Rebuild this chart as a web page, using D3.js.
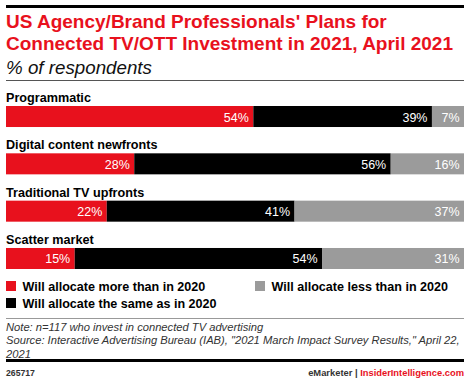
<!DOCTYPE html>
<html><head><meta charset="utf-8">
<script src="https://cdn.jsdelivr.net/npm/d3@7/dist/d3.min.js"></script>
<style>body{margin:0;background:#fff}svg{display:block}text{font-family:"Liberation Sans",Arial,sans-serif}</style>
</head><body><svg id="c" width="470" height="383"></svg>
<script>
const categories = ["Programmatic","Digital content newfronts","Traditional TV upfronts","Scatter market"];
const moreThan2020 = [54,28,22,15];
const sameAs2020 = [39,56,41,54];
const lessThan2020 = [7,16,37,31];
const seriesNames = ["Will allocate more than in 2020","Will allocate the same as in 2020","Will allocate less than in 2020"];
const seriesKeys = ["more","same","less"];
const colors = ["#e8111d","#000000","#9b9b9b"];

const svg = d3.select("#c");
const L = 6, R = 464;
const red = "#e8111d";

// size a selection so that a reference text of it spans the given width
function fit(sel, sample, width){
  const n = sample.node();
  const fs = parseFloat(sample.attr("font-size"));
  const w = n.getComputedTextLength();
  sel.attr("font-size", fs*width/w);
}

svg.append("rect").attr("x",L).attr("y",5).attr("width",R-L).attr("height",3).attr("fill","#000");
const t1 = svg.append("text").attr("class","title").attr("x",L).attr("y",28).attr("fill",red).attr("font-weight","bold").attr("font-size",19)
  .text("US Agency/Brand Professionals' Plans for");
const t2 = svg.append("text").attr("class","title").attr("x",L).attr("y",50).attr("fill",red).attr("font-weight","bold").attr("font-size",19)
  .text("Connected TV/OTT Investment in 2021, April 2021");
fit(svg.selectAll(".title"), t2, 447);
const st = svg.append("text").attr("x",L).attr("y",74).attr("fill","#111").attr("font-style","italic").attr("font-size",17)
  .text("% of respondents");
fit(st, st, 146);
svg.append("rect").attr("x",L).attr("y",80).attr("width",R-L).attr("height",1).attr("fill","#555");

const rows = categories.map((c,i)=>({cat:c, more:moreThan2020[i], same:sameAs2020[i], less:lessThan2020[i]}));
const stack = d3.stack().keys(seriesKeys)(rows);
const x = d3.scaleLinear().domain([0,100]).range([L,R]);
const y = d3.scaleBand().domain(categories).range([106,269]).paddingInner(0.556).paddingOuter(0);

const cl = svg.append("g").selectAll("text").data(categories).join("text")
  .attr("x",L).attr("y",d=>y(d)-4).attr("font-weight","bold").attr("font-size",14).attr("fill","#000").text(d=>d);
fit(cl, d3.select(cl.nodes()[0]), 85);

const g = svg.append("g");
const valueLabels = [];
stack.forEach((s,si)=>{
  const sg = g.append("g");
  sg.selectAll("rect").data(s).join("rect")
    .attr("x",d=>x(d[0])).attr("y",d=>y(d.data.cat)).attr("width",d=>x(d[1])-x(d[0])).attr("height",y.bandwidth())
    .attr("fill",colors[si]);
  sg.selectAll("text").data(s).join("text").attr("class","val")
    .attr("x",d=>x(d[1])-4.5).attr("y",d=>y(d.data.cat)+y.bandwidth()/2+5)
    .attr("text-anchor","end").attr("fill","#fff").attr("font-size",13.5)
    .text(d=>(d[1]-d[0])+"%");
});
fit(g.selectAll(".val"), d3.select(g.selectAll(".val").nodes()[0]), 25);

const legendPos = [[L,281],[L,298],[255,281]];
const lg = svg.append("g");
seriesNames.forEach((n,i)=>{
  const [lx,ly] = legendPos[i];
  lg.append("rect").attr("x",lx).attr("y",ly).attr("width",10).attr("height",10).attr("fill",colors[i]);
  lg.append("text").attr("class","lt").attr("x",lx+16.5).attr("y",ly+10).attr("font-weight","bold").attr("font-size",14).attr("fill","#000").text(n);
});
fit(lg.selectAll(".lt"), d3.select(lg.selectAll(".lt").nodes()[0]), 183);

svg.append("rect").attr("x",L).attr("y",318).attr("width",R-L).attr("height",1).attr("fill","#999");
const notes = ["Note: n=117 who invest in connected TV advertising",
  "Source: Interactive Advertising Bureau (IAB), \"2021 March Impact Survey Results,\" April 22,",
  "2021"];
const ng = svg.append("g");
notes.forEach((t,i)=>ng.append("text").attr("x",L).attr("y",331+i*13.3).attr("font-style","italic").attr("font-size",12).attr("fill","#333").text(t));
fit(ng.selectAll("text"), d3.select(ng.selectAll("text").nodes()[1]), 454);

svg.append("rect").attr("x",L).attr("y",359).attr("width",R-L).attr("height",3).attr("fill","#000");
const id = svg.append("text").attr("x",L).attr("y",376).attr("font-weight","bold").attr("font-size",11).attr("fill","#333").text("265717");
fit(id, id, 29);
const ft = svg.append("text").attr("x",R).attr("y",376).attr("text-anchor","end").attr("font-size",11).attr("font-weight","bold");
ft.append("tspan").attr("fill","#333").text("eMarketer  |  ");
ft.append("tspan").attr("fill",red).text("InsiderIntelligence.com");
fit(ft, ft, 156);
</script></body></html>
